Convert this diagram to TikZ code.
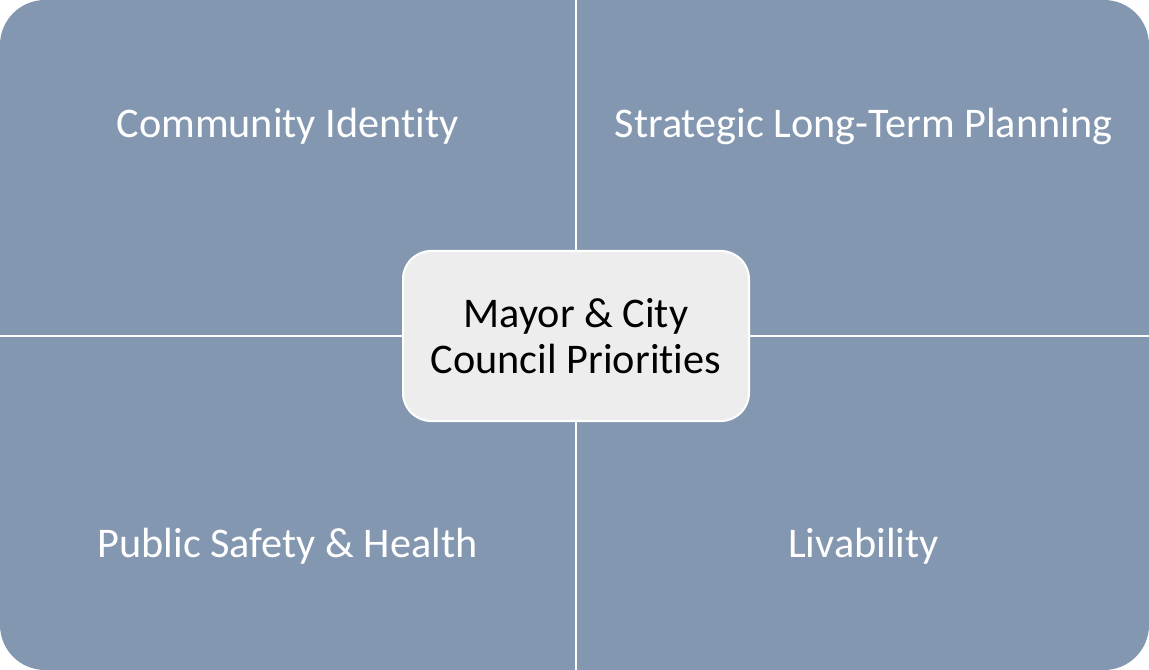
\documentclass[tikz,border=0pt]{standalone}
\usepackage{fontspec}
\setmainfont[Ligatures={NoCommon,NoRare,NoContextual}]{Carlito}
\definecolor{slate}{HTML}{8497B0}
\definecolor{panel}{HTML}{EDEDED}

\begin{document}
\begin{tikzpicture}[x=1bp, y=-1bp,
    quadtext/.style={anchor=base, text=white, font=\fontsize{42.4}{46}\selectfont},
    corebox/.style={draw=white, line width=2bp, fill=panel, rounded corners=28bp,
      minimum width=346bp, minimum height=170bp, align=center,
      font=\fontsize{42.4}{46}\selectfont}]
    \useasboundingbox (0,0) rectangle (1149,670);
    \coordinate (M) at (576,336);

    \fill[slate, rounded corners=45bp] (0,0) rectangle (1149,670);
    \draw[white, line width=2bp] (576,0) -- (576,670);
    \draw[white, line width=2bp] (0,336) -- (1149,336);

    \node[quadtext] (ident) at (287.5,137.5) {Community Identity};
    \node[quadtext] (plan) at (863.5,137.5) {Strategic Long-Term Planning};
    \node[quadtext] (safety) at (287.5,557) {Public Safety \& Health};
    \node[quadtext] (live) at (863.5,557) {Livability};

    %centre
    \node[corebox] (core) at (M) {Mayor \& City\\Council Priorities};
  \end{tikzpicture}
\end{document}
